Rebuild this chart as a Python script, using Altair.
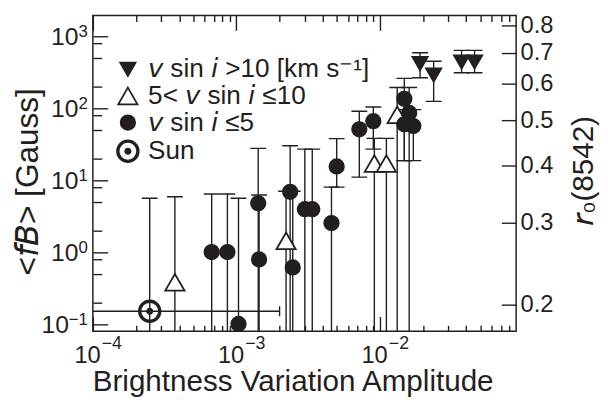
import altair as alt
import pandas as pd

INK = "#231f20"
FONT = "Liberation Sans"

# mathematical sans-serif italic letters
IV, II, IF, IB, IR = chr(0x1D637), chr(0x1D62A), chr(0x1D627), chr(0x1D609), chr(0x1D633)

# ---------------- data ----------------
kind = ["sun", "mid", "slow", "slow", "slow", "slow", "slow", "mid", "slow", "slow",
        "slow", "slow", "slow", "slow", "slow", "slow", "mid", "mid", "mid", "slow",
        "slow", "slow", "slow", "fast", "fast", "fast", "fast"]
amplitude = [2.49e-4, 3.73e-4, 6.73e-4, 8.66e-4, 1.035e-3, 1.42e-3, 1.44e-3, 2.22e-3, 2.37e-3, 2.47e-3,
             3.0e-3, 3.38e-3, 4.6e-3, 5.0e-3, 7.19e-3, 9.0e-3, 9.15e-3, 1.11e-2, 1.32e-2, 1.48e-2,
             1.60e-2, 1.48e-2, 1.71e-2, 1.905e-2, 2.37e-2, 3.71e-2, 4.57e-2]
field = [0.15, 0.38, 1.0, 1.0, 0.10, 4.76, 0.79, 1.43, 6.87, 0.61,
         3.94, 3.94, 2.53, 15.5, 50.9, 66, 17, 17, 81, 135,
         86, 59.6, 56.5, 417, 289, 440, 440]
# None: lower error bar runs off the bottom of the plot
field_low = [None, None, None, None, None, None, None, None, None, None,
             None, None, None, 8.0, 11.0, 27, None, None, None, 18.7,
             None, 18.7, 18.7, 265, 124.5, 311, 311]
field_high = [5.6, 5.87, 6.4, 6.4, 5.6, 27.6, 6.2, 7.0, 30, 7.0,
              27, 27, 8.0, 37.8, 90.7, 104, 38, 38, 194, 260,
              194, 95.7, 95.7, 590, 450, 637, 637]
sun_amp_low = [5e-5]
sun_amp_high = [2.0e-3]

kinds = ["fast", "mid", "slow", "sun"]
kind_labels = [f"{IV} sin {II} >10 [km s\u207b\u00b9]",
               f"5< {IV} sin {II} \u226410",
               f"{IV} sin {II} \u22645",
               "Sun"]
r0_values = [0.2, 0.3, 0.4, 0.5, 0.6, 0.7, 0.8]
x_label_values = [1e-4, 1e-3, 1e-2]
x_label_exps = ["\u22124", "\u22123", "\u22122"]
y_label_values = [0.1, 1, 10, 100, 1000]
y_label_exps = ["\u22121", "0", "1", "2", "3"]

# ---------------- styling ----------------
X_DOMAIN = [1e-4, 0.089]
Y_DOMAIN = [0.0791, 1941]
R_DOMAIN = [0.1752, 0.8414]
W, H = 429, 320

SHAPES = [
    "M-0.633,-0.547L0.633,-0.547L0,0.547Z",
    "M0,-0.689L0.796,0.689L-0.796,0.689Z",
    "M0.6,0A0.6,0.6,0,1,0,-0.6,0A0.6,0.6,0,1,0,0.6,0Z",
    "M0.894,0A0.894,0.894,0,1,0,-0.894,0A0.894,0.894,0,1,0,0.894,0Z"
    "M0.769,0A0.769,0.769,0,1,1,-0.769,0A0.769,0.769,0,1,1,0.769,0Z"
    "M0.22,0A0.22,0.22,0,1,0,-0.22,0A0.22,0.22,0,1,0,0.22,0Z",
]
FILLS = [INK, "white", INK, INK]

lab = dict(zip(kinds, kind_labels))
df = pd.DataFrame({"amp": amplitude, "fb": field, "low": field_low, "high": field_high,
                   "group": [lab[k] for k in kind]})
df["low"] = pd.to_numeric(df["low"])
df["low_plot"] = df["low"].fillna(Y_DOMAIN[0] / 10)

caps_df = pd.concat([
    pd.DataFrame({"amp": df["amp"], "cap": df["high"]}),
    pd.DataFrame({"amp": df["amp"], "cap": df["low"]}).dropna(),
])
sun_df = pd.DataFrame({"lo": sun_amp_low, "hi": sun_amp_high, "fb": [field[0]]})
r0_df = pd.DataFrame({"r": r0_values})
xlab_df = pd.DataFrame({"v": x_label_values, "e": x_label_exps})
ylab_df = pd.DataFrame({"v": y_label_values, "e": y_label_exps})

xs = alt.Scale(type="log", domain=X_DOMAIN)
ys = alt.Scale(type="log", domain=Y_DOMAIN)
rs = alt.Scale(type="log", domain=R_DOMAIN)

x_ticks = [m * 10.0 ** d for d in (-4, -3, -2) for m in range(1, 10) if m * 10.0 ** d <= X_DOMAIN[1]]
y_ticks = [m * 10.0 ** d for d in (-1, 0, 1, 2, 3) for m in (1, 2, 5, 8) if Y_DOMAIN[0] <= m * 10.0 ** d <= Y_DOMAIN[1]]
MAJOR = "abs(log(datum.value)/LN10 - round(log(datum.value)/LN10)) < 0.001"


def tick_axis(orient, offset, values, major, minor):
    return alt.Axis(orient=orient, offset=offset, values=values, labels=False, domain=False,
                    grid=False, ticks=True,
                    tickSize={"condition": {"test": MAJOR, "value": major}, "value": minor},
                    tickColor=INK, tickWidth=1.4, title=None)


ax_x_title = alt.Axis(
    orient="bottom", values=x_label_values, labels=False,
    ticks=False, tickSize=0, domain=False, grid=False,
    title="Brightness Variation Amplitude", titleFont=FONT, titleFontSize=30,
    titleFontWeight="normal", titleColor=INK, titleX=W / 2 - 12, titleY=60,
    titleBaseline="alphabetic")

ax_y_title = alt.Axis(
    orient="left", values=y_label_values, labels=False,
    ticks=False, tickSize=0, domain=False, grid=False,
    title=f"<{IF}{IB}> [Gauss]", titleFont=FONT, titleFontSize=32, titleFontWeight="normal",
    titleColor=INK, titleAngle=270, titleX=-56, titleY=H / 2 + 8, titleBaseline="alphabetic")

ax_r_labels = alt.Axis(
    orient="right", values=r0_values, format=".1f",
    ticks=False, tickSize=0, domain=False, grid=False, labelFlush=False, labelOverlap=False,
    labelFont=FONT, labelFontSize=24, labelColor=INK, labelPadding=4,
    title=f"{IR}\u2080(8542)", titleFont=FONT, titleFontSize=30, titleFontWeight="normal",
    titleColor=INK, titleAngle=270, titleX=77, titleY=157, titleBaseline="alphabetic")

ax_r_ticks = alt.Axis(orient="left", offset=-W, values=r0_values, labels=False, domain=False,
                      grid=False, ticks=True, tickSize=15, tickColor=INK, tickWidth=1.4, title=None)

legend = alt.Legend(title=None, orient="none", legendX=22, legendY=41, padding=0,
                    labelFont=FONT, labelFontSize=26.5, labelColor=INK, labelOffset=7,
                    labelLimit=500, rowPadding=0, symbolSize=600, symbolStrokeWidth=1.8,
                    symbolStrokeColor=INK, symbolOpacity=1,
                    labelExpr="datum.label == 'Sun' ? '\u00a0Sun' : datum.label")

rules = alt.Chart(df).mark_rule(color=INK, strokeWidth=1.4, clip=True).encode(
    x=alt.X("amp:Q", scale=xs, axis=ax_x_title),
    y=alt.Y("low_plot:Q", scale=ys, axis=ax_y_title),
    y2="high:Q",
)

caps = alt.Chart(caps_df).mark_tick(orient="horizontal", size=16, thickness=1.4, color=INK,
                                    opacity=1, clip=True).encode(
    x=alt.X("amp:Q", scale=xs, axis=tick_axis("bottom", -H, x_ticks, 15, 6)),
    y=alt.Y("cap:Q", scale=ys, axis=tick_axis("right", -W, y_ticks, 15, 9)),
)

sun_h = alt.Chart(sun_df).mark_rule(color=INK, strokeWidth=1.4, clip=True).encode(
    x=alt.X("lo:Q", scale=xs, axis=None), x2="hi:Q",
    y=alt.Y("fb:Q", scale=ys, axis=None),
)
sun_cap = alt.Chart(sun_df).mark_tick(orient="vertical", size=10, thickness=1.4, color=INK,
                                      opacity=1, clip=True).encode(
    x=alt.X("hi:Q", scale=xs, axis=None),
    y=alt.Y("fb:Q", scale=ys, axis=None),
)

points = alt.Chart(df).mark_point(filled=True, opacity=1, size=600, strokeWidth=1.8).encode(
    x=alt.X("amp:Q", scale=xs, axis=tick_axis("top", -H, x_ticks, 15, 6)),
    y=alt.Y("fb:Q", scale=ys, axis=None),
    shape=alt.Shape("group:N", scale=alt.Scale(domain=kind_labels, range=SHAPES), legend=legend),
    fill=alt.Fill("group:N", scale=alt.Scale(domain=kind_labels, range=FILLS), legend=legend),
    stroke=alt.Stroke("group:N", scale=alt.Scale(domain=kind_labels, range=[INK] * 4), legend=legend),
)

# tick labels of the form 10^n, drawn through the axis scales
x_base = alt.Chart(xlab_df).mark_text(align="right", baseline="alphabetic", dx=8, fontSize=24,
                                      font=FONT, color=INK).encode(
    x=alt.X("v:Q", scale=xs, axis=None), y=alt.value(H + 32), text=alt.value("10"))
x_exp = alt.Chart(xlab_df).mark_text(align="left", baseline="alphabetic", dx=9, fontSize=18,
                                     font=FONT, color=INK).encode(
    x=alt.X("v:Q", scale=xs, axis=None), y=alt.value(H + 18), text="e:N")
y_base = alt.Chart(ylab_df).transform_calculate(bx="-5 - 9.6 * length(datum.e)").mark_text(
    align="right", baseline="alphabetic", dy=9, fontSize=25, font=FONT, color=INK).encode(
    y=alt.Y("v:Q", scale=ys, axis=None), x=alt.X("bx:Q", scale=None), text=alt.value("10"))
y_exp = alt.Chart(ylab_df).mark_text(align="right", baseline="alphabetic", dy=1, fontSize=17,
                                     font=FONT, color=INK).encode(
    y=alt.Y("v:Q", scale=ys, axis=None), x=alt.value(-5), text="e:N")

r_lab = alt.Chart(r0_df).mark_point(opacity=0).encode(
    y=alt.Y("r:Q", scale=rs, axis=ax_r_labels))
r_tck = alt.Chart(r0_df).mark_point(opacity=0).encode(
    y=alt.Y("r:Q", scale=rs, axis=ax_r_ticks))

chart = alt.layer(rules, sun_h, caps, sun_cap, points, x_base, x_exp, y_base, y_exp,
                  r_lab, r_tck).resolve_scale(
    x="independent", y="independent"
).properties(
    width=W, height=H,
    padding={"left": 86, "top": 5, "right": 85, "bottom": 69},
    autosize=alt.AutoSizeParams(type="none"),
).configure(font=FONT).configure_view(stroke=INK, strokeWidth=1.5)

chart.save("out.html", embed_options={"renderer": "svg", "actions": False})
